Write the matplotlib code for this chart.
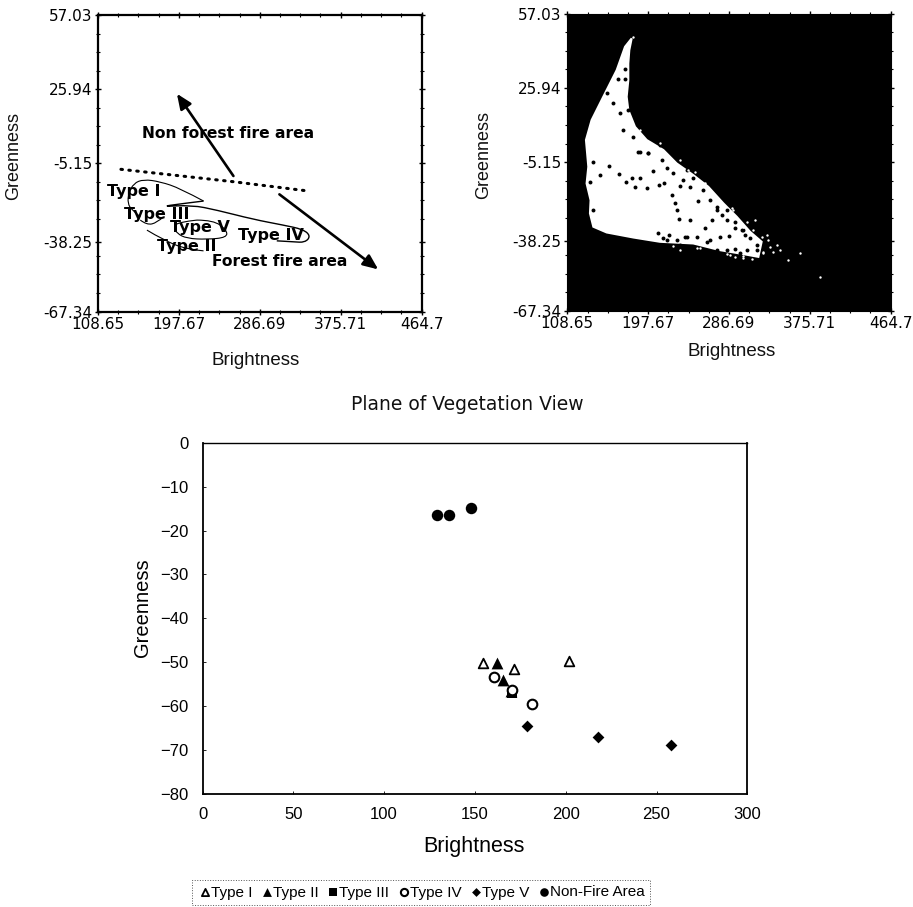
import matplotlib
matplotlib.use("Agg")
import matplotlib.pyplot as plt
from matplotlib.path import Path
from matplotlib.patches import PathPatch, Polygon

W, H = 913, 907
X_TICKS = [108.65, 197.67, 286.69, 375.71, 464.7]
Y_TICKS = [-67.34, -38.25, -5.15, 25.94, 57.03]
X_LABELS = ["108.65", "197.67", "286.69", "375.71", "464.7"]
Y_LABELS = ["-67.34", "-38.25", "-5.15", "25.94", "57.03"]

# boundary between fire / non-fire
divider_x = [133.9, 257.7, 335.8]
divider_y = [-7.7, -12.9, -16.6]

# class outlines in the left panel
type1_x = [224.8, 199.1, 177.2, 158.8, 147.8, 142.4, 141.3, 146.0, 155.2]
type1_y = [-21.0, -15.7, -12.9, -11.9, -13.6, -17.8, -22.0, -24.8, -27.6]
type4_x = [224.8, 199.1, 177.2, 211.9, 239.4, 279.7, 312.7, 334.6, 342.7, 336.5, 323.7, 305.4]
type4_y = [-21.0, -22.2, -23.4, -22.7, -24.8, -28.7, -31.1, -32.9, -35.7, -38.4, -38.1, -37.7]
type3_x = [180.8, 173.5, 162.5, 155.2]
type3_y = [-27.6, -30.1, -31.1, -29.0]
type5_x = [217.4, 235.7, 250.4, 250.4, 228.4, 206.4, 195.5, 191.8, 198.0, 217.4]
type5_y = [-29.0, -29.0, -33.2, -36.3, -37.1, -36.7, -34.6, -31.8, -29.8, -29.0]
type2_x = [162.5, 180.8, 206.4, 224.8]
type2_y = [-33.2, -37.4, -41.3, -41.9]

# scatter region in the right panel
region_x = [179.5, 176.9, 175.8, 175.8, 174.0, 175.8, 183.2, 196.0, 214.4, 229.0, 247.4, 263.9,
            280.4, 295.1, 309.8, 322.6, 319.0, 298.8, 276.8, 247.4, 210.7, 181.3, 152.0, 137.3,
            133.6, 134.3, 129.9, 131.8, 129.2, 135.4, 148.3, 163.0, 172.2]
region_y = [46.6, 41.7, 36.1, 29.1, 22.2, 16.6, 9.6, 4.1, -0.1, -5.7, -10.6, -15.5,
            -22.4, -28.0, -34.3, -38.5, -44.8, -43.4, -42.0, -39.2, -38.5, -36.7, -34.6, -32.2,
            -26.6, -21.1, -14.1, -7.1, 4.1, 12.4, 22.2, 33.3, 43.1]
holes_x = [137.3, 133.6, 144.6, 137.3, 154.5, 165.9, 173.3, 179.5, 188.7, 203.4, 183.2, 196.7,
           210.0, 215.5, 223.9, 232.7, 243.7, 227.6, 252.9, 229.8, 232.0, 208.9, 220.6, 240.1,
           251.1, 260.2, 276.8, 287.0, 265.8, 273.1, 293.3, 304.3, 317.1, 306.1, 229.0, 218.0,
           225.4, 236.4, 218.0, 186.8, 197.9, 212.5, 273.1, 284.1, 293.3, 278.6, 267.6, 243.7,
           302.5, 164.8, 172.1, 159.3, 166.6, 152.0, 175.8, 181.3, 188.7, 197.8, 170.3, 210.7, 172.1,
           240.1, 247.4, 258.4, 265.8, 273.1, 284.1, 293.3, 300.6, 309.8, 317.1, 298.8, 284.1,
           262.1, 238.2, 232.7, 214.4]
holes_y = [-5.0, -13.4, -10.6, -25.0, -6.8, -10.3, -13.4, -12.0, -11.7, -8.8, -15.5, -16.2,
           -14.8, -14.1, -19.0, -15.1, -15.5, -22.2, -21.5, -25.0, -29.0, -35.0, -35.7, -36.4,
           -36.7, -32.9, -36.7, -36.0, -37.8, -42.0, -41.7, -35.7, -39.9, -42.0, -37.8, -37.8,
           -9.9, -12.7, -7.8, -0.8, -1.5, -4.3, -23.8, -29.4, -32.9, -27.3, -29.4, -29.4,
           -33.6, 29.8, 29.8, 19.4, 15.2, 23.6, 16.6, 5.4, -0.8, -1.5, 8.2, 2.0, 34.0,
           -8.5, -12.0, -16.9, -21.1, -25.2, -25.2, -30.1, -33.6, -37.1, -42.0, -43.4, -42.0,
           -38.5, -36.7, -39.9, -37.1]
specks_x = [331.8, 339.2, 324.5, 335.5, 342.8, 352.0, 364.9, 386.9, 315.3, 306.1, 289.6, 260.2,
            249.2, 232.7, 188.7, 210.7, 181.3, 330.0, 322.6, 302.5, 287.8, 254.7, 225.4,
            293.3, 302.5, 311.6, 284.1, 232.7, 251.1, 241.9, 258.4, 291.4, 302.5, 313.5, 328.2, 324.5]
specks_y = [-40.6, -39.9, -42.7, -42.7, -42.0, -46.1, -43.4, -53.4, -29.4, -30.1, -24.5, -14.1,
            -9.2, -4.3, 8.2, 2.7, 47.3, -37.8, -36.4, -45.4, -44.1, -41.3, -40.3,
            -44.8, -44.5, -45.5, -43.6, -42.0, -41.3, -8.5, -14.1, -25.2, -32.2, -33.6, -35.7, -43.4]

# bottom panel series
t1_x = [154.6, 171.7, 201.8]
t1_y = [-50.1, -51.6, -49.8]
t2_x = [162.2, 165.3, 170.0]
t2_y = [-50.3, -54.1, -56.5]
t3_x = [170.4]
t3_y = [-57.1]
t4_x = [160.3, 170.3, 181.4]
t4_y = [-53.3, -56.4, -59.5]
t5_x = [178.9, 217.8, 258.1]
t5_y = [-64.7, -67.0, -68.9]
nf_x = [129.3, 135.9, 148.0]
nf_y = [-16.4, -16.4, -14.9]

SANS = "Liberation Sans"


def axes_px(fig, left, top, right, bottom):
    return fig.add_axes([left / W, 1 - bottom / H, (right - left) / W, (bottom - top) / H])


def smooth(ax, xs, ys, lw=0.8):
    pts = list(zip(xs, ys))
    verts = [pts[0]]
    codes = [Path.MOVETO]
    for i in range(1, len(pts) - 1):
        nxt = pts[i + 1] if i == len(pts) - 2 else ((pts[i][0] + pts[i + 1][0]) / 2, (pts[i][1] + pts[i + 1][1]) / 2)
        verts += [pts[i], nxt]
        codes += [Path.CURVE3, Path.CURVE3]
    ax.add_patch(PathPatch(Path(verts, codes), fc="none", ec="black", lw=lw, zorder=2))


def style_panel(ax):
    ax.set_xlim(X_TICKS[0], X_TICKS[-1])
    ax.set_ylim(Y_TICKS[0], Y_TICKS[-1])
    ax.set_xticks(X_TICKS, X_LABELS, fontfamily="DejaVu Sans", fontsize=11)
    ax.set_yticks(Y_TICKS, Y_LABELS, fontfamily="DejaVu Sans", fontsize=11)
    ax.set_xticks([108.65 + 89.01 * i / 4 for i in range(1, 16) if i % 4], minor=True)
    ax.set_yticks([-67.34 + 124.37 * i / 16 for i in range(1, 16) if i % 4], minor=True)
    ax.tick_params(which="major", direction="inout", length=5, width=1, top=True, right=True, pad=1.5)
    ax.tick_params(which="minor", direction="inout", length=3, width=0.8, top=True, right=True)


def big_label(ax, xl, xpos, ypos, yl, xpos2, ypos2):
    ax.set_xlabel(xl, fontfamily=SANS, fontsize=13.5, va="center", color="#111111")
    ax.xaxis.set_label_coords(xpos, ypos)
    ax.set_ylabel(yl, fontfamily=SANS, fontsize=13, va="center", color="#111111")
    ax.yaxis.set_label_coords(xpos2, ypos2)


fig = plt.figure(figsize=(W / 100, H / 100), dpi=100)

# left panel
a = axes_px(fig, 98, 15, 421.5, 311.5)
style_panel(a)
for s in a.spines.values():
    s.set_linewidth(1.6)
a.plot(divider_x, divider_y, color="black", lw=2.2, ls=(0, (0.5, 2.1)), dash_capstyle="round", zorder=3)
smooth(a, type1_x, type1_y)
smooth(a, type4_x, type4_y, lw=1.0)
smooth(a, type3_x, type3_y)
smooth(a, type5_x, type5_y)
smooth(a, type2_x, type2_y)
for start, end in [((257.7, -10.5), (195.5, 24.0)), ((308.3, -18.2), (417.1, -49.7))]:
    a.annotate("", xy=end, xytext=start,
               arrowprops=dict(arrowstyle="-|>,head_length=0.75,head_width=0.32", color="black", lw=1.9,
                               shrinkA=0, shrinkB=0, mutation_scale=12))
TXT = dict(fontfamily="DejaVu Sans", fontweight="bold", ha="center", va="center", zorder=4)
a.text(251.5, 7.2, "Non forest fire area", fontsize=11.2, **TXT)
a.text(308.3, -46.2, "Forest fire area", fontsize=11.2, **TXT)
a.text(147.8, -16.8, "Type I", fontsize=11.5, **TXT)
a.text(172.8, -26.5, "Type III", fontsize=11.5, **TXT)
a.text(220.4, -32.1, "Type V", fontsize=11.5, **TXT)
a.text(298.8, -35.4, "Type IV", fontsize=11.5, **TXT)
a.text(206.5, -39.9, "Type II", fontsize=11.5, **TXT)
big_label(a, "Brightness", 0.488, -0.164, "Greenness", -0.26, 0.525)

# right panel
b = axes_px(fig, 567.3, 13.5, 890.7, 310.7)
b.set_facecolor("black")
style_panel(b)
for s in b.spines.values():
    s.set_linewidth(0.8)
b.add_patch(Polygon(list(zip(region_x, region_y)), closed=True, fc="white", ec="white", lw=1.5, zorder=2))
b.scatter(holes_x, holes_y, s=8, c="black", marker="o", linewidths=0, zorder=3)
b.scatter(specks_x, specks_y, s=3, c="white", marker="o", linewidths=0, zorder=3)
big_label(b, "Brightness", 0.507, -0.138, "Greenness", -0.26, 0.525)

# bottom panel
c = axes_px(fig, 202.5, 443, 747.3, 793.5)
c.set_xlim(0, 300)
c.set_ylim(-80, 0)
c.set_xticks(range(0, 301, 50))
c.set_yticks(range(-80, 1, 10))
c.tick_params(direction="in", length=2, width=0.6, labelsize=12, pad=10)
for lab in c.get_xticklabels() + c.get_yticklabels():
    lab.set_fontfamily(SANS)
c.spines["left"].set_linewidth(1.3)
c.spines["bottom"].set_linewidth(1.3)
c.spines["top"].set_linewidth(1.0)
c.spines["right"].set_linewidth(1.3)
h1 = c.scatter(t1_x, t1_y, marker="^", s=48, facecolors="white", edgecolors="black", linewidths=1.3, label="Type I", zorder=3)
h3 = c.scatter(t3_x, t3_y, marker="s", s=52, c="black", linewidths=0, label="Type III", zorder=3)
h2 = c.scatter(t2_x, t2_y, marker="^", s=72, c="black", linewidths=0, label="Type II", zorder=3)
h4 = c.scatter(t4_x, t4_y, marker="o", s=48, facecolors="white", edgecolors="black", linewidths=1.5, label="Type IV", zorder=4)
h5 = c.scatter(t5_x, t5_y, marker="D", s=36, c="black", linewidths=0, label="Type V", zorder=3)
h6 = c.scatter(nf_x, nf_y, marker="o", s=68, c="black", linewidths=0, label="Non-Fire Area", zorder=3)
c.set_title("Plane of Vegetation View", fontfamily="DejaVu Sans", fontsize=13.5, pad=24, color="#111111", x=0.4855)
c.set_xlabel("Brightness", fontfamily=SANS, fontsize=15.5, va="center")
c.xaxis.set_label_coords(0.498, -0.15)
c.set_ylabel("Greenness", fontfamily=SANS, fontsize=14.5, va="center")
c.yaxis.set_label_coords(-0.111, 0.53)

leg = fig.legend(handles=[h1, h2, h3, h4, h5, h6], loc="center", bbox_to_anchor=(421 / W, 1 - 892.5 / H),
                 ncols=6, frameon=True, fancybox=False, framealpha=1, edgecolor="#555555",
                 prop=dict(family=SANS, size=11), handletextpad=-0.1, columnspacing=0.45, borderpad=0.35,
                 markerscale=0.75, handlelength=1.0, borderaxespad=0)
leg.get_frame().set_linestyle(":")
leg.get_frame().set_linewidth(0.7)

fig.savefig("out.png", dpi=100)
